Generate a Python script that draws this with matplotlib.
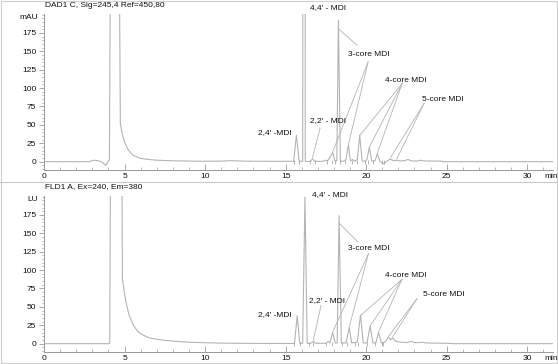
import numpy as np
import matplotlib
matplotlib.use("Agg")
import matplotlib.pyplot as plt
from matplotlib.lines import Line2D
from matplotlib.patches import Rectangle
from matplotlib.ticker import MultipleLocator

plt.rcParams['font.family'] = ['Liberation Sans', 'DejaVu Sans']

# ---- chromatogram vertices (time in min, response) ----
dad_t = [0, 2.8, 3.05, 3.3, 3.55, 3.82, 3.95, 4.06, 4.12, 4.68, 4.74, 4.85, 5.0, 5.2,
         5.5, 6.0, 6.5, 7.0, 8.0, 9.0, 10.0, 11.0, 11.6, 12.5, 14.0, 15.4,
         15.5, 15.67, 15.84, 16.06, 16.14, 16.22, 16.4, 16.55, 16.67, 16.8,
         17.3, 17.5, 17.6, 17.75, 17.93, 18.06, 18.18, 18.28, 18.4, 18.6, 18.75,
         18.9, 19.02, 19.15, 19.3, 19.45, 19.6, 19.75, 19.95, 20.05, 20.2, 20.35,
         20.55, 20.7, 20.85, 21.1, 21.3, 21.5, 21.7, 21.9, 22.1, 22.4, 22.6, 22.8,
         23.2, 23.4, 23.6, 24.6, 24.8, 31.6]
dad_v = [0, 0, 2, 1.5, 0.3, -5, -1.5, 3, 260, 260, 52, 38, 27, 17,
         9, 4.5, 3, 2, 1.2, 0.8, 0.6, 0.8, 1.3, 0.7, 0.5, 0.5,
         0.5, 36, 0.5, 0.5, 3000, 0.5, 0.3, 0.5, 4, 0.5,
         0.5, 2, 0.8, 6, 12.5, 1, 1, 192, 1, 0.5, 3,
         23, 1, 3, 0.5, 3, 36, 1, 0.5, 3, 19.5, 1,
         1, 11, 0.5, -3, 1, 3.5, 1, 2, 1, 1.5, 3, 1,
         1, 2, 1, 0.8, 0, 0]

fld_t = [0, 4.0, 4.08, 4.14, 4.82, 4.87, 5.0, 5.15, 5.3, 5.55, 5.8, 6.0, 6.5, 7.0,
         7.5, 8.0, 9.0, 10.0, 11.0, 12.0, 14.0, 15.55,
         15.72, 15.88, 16.06, 16.2, 16.34, 16.55, 16.72, 16.9, 17.5, 17.65, 17.75,
         17.92, 18.08, 18.2, 18.32, 18.46, 18.75, 18.95, 19.1, 19.45, 19.65, 19.82,
         20.05, 20.25, 20.42, 20.6, 20.77, 20.95, 21.15, 21.4, 21.52, 21.65, 21.85,
         22.2, 22.5, 22.8, 23.0, 23.3, 23.5, 23.7, 25.0, 25.5, 31.6]
fld_v = [0, 0, 0.5, 300, 300, 88, 68, 50, 38, 25, 17, 13.5, 8, 6,
         4.5, 3.5, 2, 1.3, 0.8, 0.5, 0.3, 0.3,
         38, 0.5, 0.5, 199, 0.5, 0.5, 3, 0.5, 0.5, 3, 1,
         15, 1, 1, 174, 1, 1, 22, 1, 2, 39, 1,
         1, 24, 1, 1, 15, 1, 2, 9, 5, 8, 3,
         2, 1.5, 3, 1.5, 1.5, 2, 1, 0.5, 0, 0]

# integration marks on the baseline
dad_marks = [15.5, 15.86, 16.5, 16.85, 17.56, 17.87, 18.08, 18.39, 18.7, 19.1,
             19.43, 19.94, 20.14, 20.45, 20.97, 21.1]
fld_marks = [15.55, 15.9, 16.45, 16.73, 17.5, 17.87, 18.53, 18.8, 19.3, 19.48,
             20.04, 20.56, 20.97, 21.07]

# ---- peak labels: text, text pos, [(line origin, target peak times)] ----
dad_labels = [
    ("4,4′ - MDI", (16.52, 209), []),
    ("3-core MDI", (18.88, 146), [((19.42, 158.6), [18.28]),
                                  ((20.12, 135.5), [17.93, 18.9])]),
    ("4-core MDI", (21.14, 111), [((22.24, 106.5), [19.6, 20.2, 20.7])]),
    ("5-core MDI", (23.46, 85), [((23.6, 79.3), [21.5, 21.9])]),
    ("2,2′ - MDI", (16.52, 55.7), [((17.14, 45.4), [16.67])]),
    ("2,4′ -MDI", (13.29, 39), []),
]
fld_labels = [
    ("4,4′ - MDI", (16.63, 203), []),
    ("3-core MDI", (18.9, 129), [((19.5, 138), [18.32]),
                                 ((20.14, 122), [17.92, 18.95])]),
    ("4-core MDI", (21.14, 93), [((22.22, 87.4), [19.65, 20.25, 20.77])]),
    ("5-core MDI", (23.5, 67), [((23.15, 61), [21.4, 21.65])]),
    ("2,2′ - MDI", (16.48, 58), [((17.2, 52), [16.72])]),
    ("2,4′ -MDI", (13.29, 39), []),
]

W, H = 558, 364
LINE = '#b4b4b4'
TXT = '#111111'
FS = 6.0

fig = plt.figure(figsize=(W / 100, H / 100), dpi=100)


def panel(top_px, times, vals, marks, labels, title, unit):
    ax = fig.add_axes([44 / W, 1 - (top_px + 156) / H, 509 / W, 156 / H])
    ax.set_xlim(0, 31.6)
    ax.set_ylim(-11.3, 200.7)
    ax.plot(times, vals, color=LINE, lw=0.8)
    ax.plot(marks, [0] * len(marks), ls='none', marker='|', ms=3.5,
            mew=0.6, color='#aaaaaa')

    for text, pos, lines in labels:
        ax.text(pos[0], pos[1], text, fontsize=FS, color=TXT, ha='left',
                va='center', clip_on=False)
        for origin, targets in lines:
            for t in targets:
                v = np.interp(t, times, vals) * 0.93 + 2
                ax.plot([origin[0], t], [origin[1], v], color=LINE, lw=0.6)

    for s in ['top', 'right']:
        ax.spines[s].set_visible(False)
    for s in ['left', 'bottom']:
        ax.spines[s].set_color('#9a9a9a')
        ax.spines[s].set_linewidth(0.7)
    ax.xaxis.set_major_locator(MultipleLocator(5))
    ax.xaxis.set_minor_locator(MultipleLocator(1))
    ax.yaxis.set_major_locator(MultipleLocator(25))
    ax.yaxis.set_minor_locator(MultipleLocator(5))
    ax.set_yticks(np.arange(0, 176, 25))
    ax.tick_params(axis='x', which='major', direction='in', length=4,
                   width=0.6, color='#9a9a9a', labelsize=FS, labelcolor=TXT, pad=2)
    ax.tick_params(axis='x', which='minor', direction='in', length=2.2,
                   width=0.5, color='#9a9a9a')
    ax.tick_params(axis='y', which='major', direction='out', length=3.5,
                   width=0.6, color='#9a9a9a', labelsize=FS, labelcolor=TXT, pad=2)
    ax.tick_params(axis='y', which='minor', direction='out', length=1.8,
                   width=0.5, color='#9a9a9a')
    ax.set_facecolor('none')

    ax.text(-6 / 509, 196.5, unit, transform=ax.get_yaxis_transform(),
            fontsize=FS, color=TXT, ha='right', va='center')
    ax.text(31.5, -20.5, 'min', fontsize=FS, color=TXT, ha='center',
            va='center', clip_on=False)
    ax.text(1 / 509, 1 + 9 / 156, title, transform=ax.transAxes,
            fontsize=FS, color=TXT, ha='left', va='center')
    return ax


panel(14, dad_t, dad_v, dad_marks, dad_labels,
      "DAD1 C, Sig=245,4 Ref=450,80", "mAU")
panel(196, fld_t, fld_v, fld_marks, fld_labels,
      "FLD1 A, Ex=240, Em=380", "LU")

fig.add_artist(Line2D([0, 1], [1 - 182 / H] * 2, color='#c8c8c8', lw=0.8))
fig.add_artist(Rectangle((0.001, 0.002), 0.997, 0.995, fill=False,
                         edgecolor='#cfcfcf', lw=0.8, transform=fig.transFigure))

fig.savefig("out.png", dpi=100)
